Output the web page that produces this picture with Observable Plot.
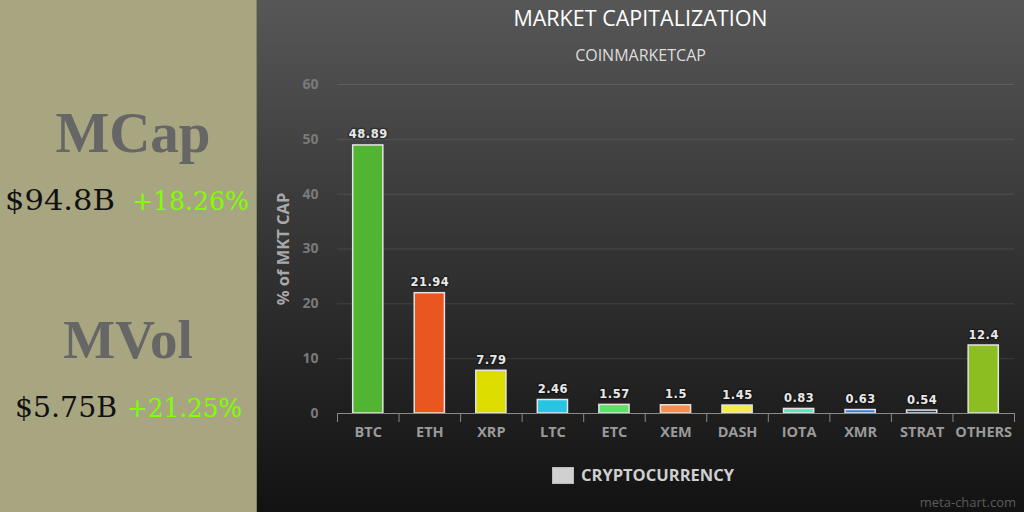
<!DOCTYPE html>
<html>
<head>
<meta charset="utf-8">
<script src="https://cdn.jsdelivr.net/npm/d3@7"></script>
<script src="https://cdn.jsdelivr.net/npm/@observablehq/plot@0.6"></script>
<style>
  html, body { margin: 0; padding: 0; width: 1024px; height: 512px; overflow: hidden; background: #111; }
  #left { position: absolute; left: 0; top: 0; width: 256px; height: 512px; background: #a7a681; border-right: 1px solid #86855f; }
  #right { position: absolute; left: 257px; top: 0; width: 767px; height: 512px;
           background: linear-gradient(to bottom, #575757 0%, #333 50%, #121212 100%); font-family: 'Open Sans', sans-serif; }
  .t { position: absolute; left: 0; width: 767px; text-align: center; line-height: 1; white-space: nowrap; }
  #title { top: 7px; font-size: 21.5px; color: #fff; }
  #subtitle { top: 47px; font-size: 16px; color: #ddd; }
  #chart { position: absolute; left: 0; top: 70px; }
  #legend { position: absolute; left: 295px; top: 467px; height: 16px; display: flex; align-items: center; }
  #legend .sw { width: 20px; height: 15px; background: #d0d0d0; border: 1px solid #bbb; margin-right: 7px; }
  #legend span { font-size: 16.5px; font-weight: bold; color: #cfcfcf; line-height: 1; }
  #credit { position: absolute; right: 8px; top: 496px; font-size: 13px; color: #5a5a5a; line-height: 1; }
  g.vals text { letter-spacing: 0.5px; }
</style>
</head>
<body>
<div id="left">
  <svg width="256" height="512" xmlns="http://www.w3.org/2000/svg">
    <text x="133" y="152" text-anchor="middle" font-family="'Liberation Serif', serif" font-weight="bold" font-size="57" fill="#666">MCap</text>
    <text x="5" y="210" font-family="'DejaVu Serif', serif" font-size="28" fill="#111" textLength="110" lengthAdjust="spacingAndGlyphs">$94.8B</text>
    <text x="132" y="210" font-family="'DejaVu Serif', serif" font-size="26" fill="#80ff00" textLength="117" lengthAdjust="spacingAndGlyphs">+18.26%</text>
    <text x="128" y="358" text-anchor="middle" font-family="'Liberation Serif', serif" font-weight="bold" font-size="55" fill="#666">MVol</text>
    <text x="15" y="417" font-family="'DejaVu Serif', serif" font-size="28" fill="#111" textLength="102" lengthAdjust="spacingAndGlyphs">$5.75B</text>
    <text x="127" y="417" font-family="'DejaVu Serif', serif" font-size="26" fill="#80ff00" textLength="115" lengthAdjust="spacingAndGlyphs">+21.25%</text>
  </svg>
</div>
<div id="right">
  <div id="title" class="t">MARKET CAPITALIZATION</div>
  <div id="subtitle" class="t">COINMARKETCAP</div>
  <div id="chart"></div>
  <div id="legend"><div class="sw"></div><span>CRYPTOCURRENCY</span></div>
  <div id="credit">meta-chart.com</div>
</div>
<script>
const categories = ["BTC", "ETH", "XRP", "LTC", "ETC", "XEM", "DASH", "IOTA", "XMR", "STRAT", "OTHERS"];
const shares = [48.89, 21.94, 7.79, 2.46, 1.57, 1.5, 1.45, 0.83, 0.63, 0.54, 12.4];
const barColors = ["#52b433", "#ea561f", "#dddd00", "#28c4e4", "#5ce068", "#f78c4f", "#f7ea4c", "#60e4bb", "#3a7ed8", "#2c3c52", "#8cbe22"];
const yTicks = [0, 10, 20, 30, 40, 50, 60];
const yLabel = "% of MKT CAP";

const W = 767, H = 380, mL = 80, mR = 10, mT = 14, mB = 37;
const bw = (W - mL - mR) / categories.length;
const data = categories.map((c, i) => ({cat: c, value: shares[i], color: barColors[i]}));

const chart = Plot.plot({
  width: W, height: H,
  marginLeft: mL, marginRight: mR, marginTop: mT, marginBottom: mB,
  style: {background: "transparent", fontFamily: "'Open Sans', sans-serif", overflow: "visible"},
  x: {domain: categories, padding: 0, round: false, label: null},
  y: {domain: [0, 60], label: null},
  marks: [
    Plot.gridY(yTicks.filter(t => t > 0), {stroke: "#fff", strokeOpacity: 0.1, strokeWidth: 1}),
    Plot.axisY(yTicks, {tickSize: 0, tickPadding: 19, fontSize: 14, fontWeight: "bold", color: "#7a7a7a", label: null}),
    Plot.text([yLabel], {frameAnchor: "left", textAnchor: "middle", rotate: -90, dx: -54, fill: "#a8a8a8", fontSize: 16.5, fontWeight: "bold"}),
    Plot.barY(data, {x: "cat", y: "value", fill: "color", stroke: "#e4e4e4", strokeWidth: 1.5, insetLeft: bw * 0.255, insetRight: bw * 0.255}),
    Plot.text(data, {x: "cat", y: "value", text: d => String(d.value), lineAnchor: "bottom", dy: -7,
      fill: "#e8e8e8", fontSize: 11.5, fontWeight: "bold", fontFamily: "'DejaVu Sans', sans-serif",
      stroke: "#000", strokeOpacity: 0.3, strokeWidth: 3, className: "vals"}),
    Plot.ruleY([0], {stroke: "#8a8a8a", strokeWidth: 1.2}),
    Plot.axisX({tickSize: 0, tickPadding: 13, fontSize: 14.5, fontWeight: "bold", color: "#9a9a9a", label: null}),
    Plot.axisX(categories, {tickSize: 9, tickFormat: () => "", dx: -bw / 2, color: "#8a8a8a", label: null}),
    Plot.axisX([categories[categories.length - 1]], {tickSize: 9, tickFormat: () => "", dx: bw / 2, color: "#8a8a8a", label: null})
  ]
});
document.getElementById("chart").appendChild(chart);
</script>
</body>
</html>
